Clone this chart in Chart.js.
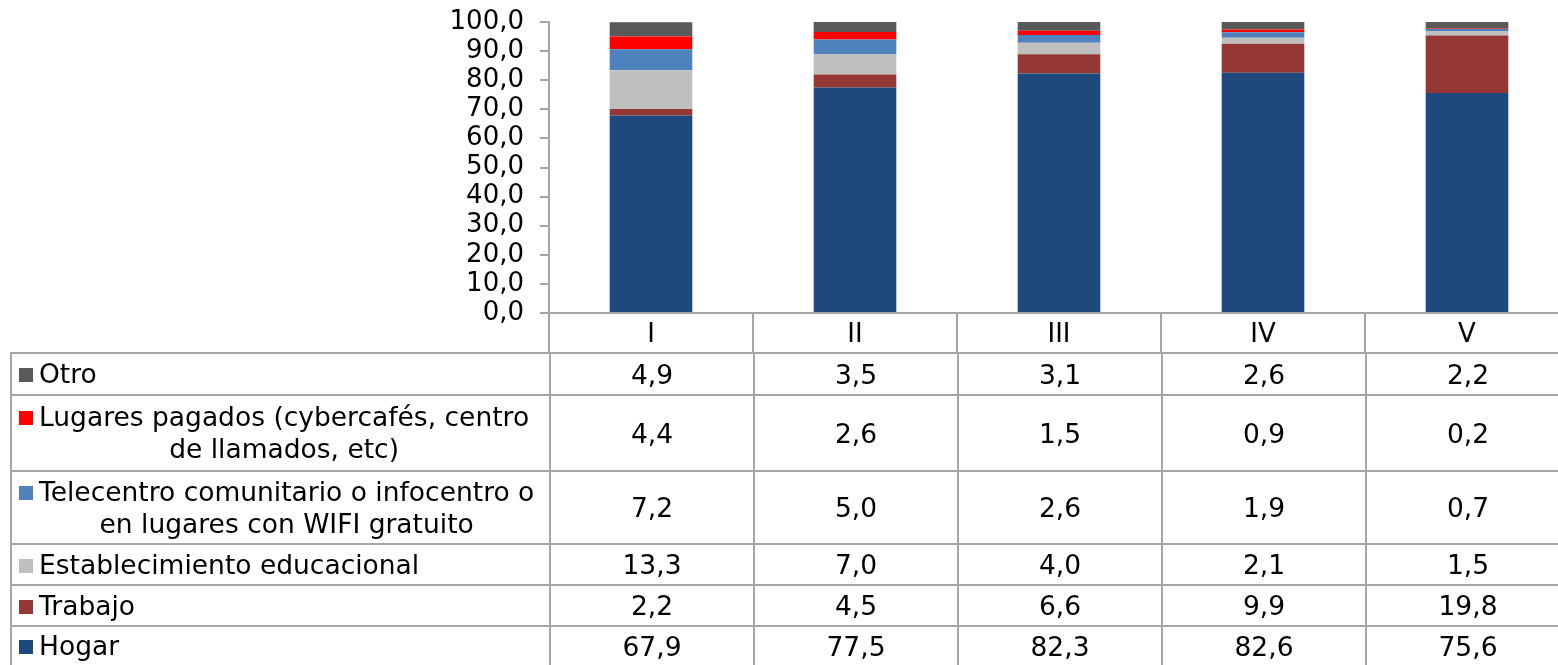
<!DOCTYPE html>
<html>
<head>
<meta charset="utf-8">
<script src="https://cdn.jsdelivr.net/npm/chart.js@4"></script>
<style>
  html, body { margin: 0; padding: 0; background: #fff; }
  body { width: 1558px; height: 665px; position: relative; overflow: hidden; font-family: "DejaVu Sans", Verdana, sans-serif; }
  #wrap { position: absolute; left: 0; top: 0; width: 1570px; height: 353px; }
  #data-table { position: absolute; left: 10px; top: 352px; width: 1561px; border-collapse: collapse; table-layout: fixed; font-size: 26.5px; color: #000; }
  #data-table td { border: 2px solid #a6a6a6; padding: 0; text-align: center; vertical-align: middle; }
  #data-table td.name { text-align: left; padding-left: 7px; }
  .name .lbl { display: inline-block; text-align: center; white-space: pre-line; line-height: 32px; vertical-align: middle; }
  .key { display: inline-block; flex: none; width: 14px; height: 14px; margin-right: 6px; margin-top: 10px; }
  .name .inner { display: flex; align-items: flex-start; }
</style>
</head>
<body>
<div id="wrap"><canvas id="chart" width="1570" height="353"></canvas></div>
<table id="data-table"><tbody id="table-body"></tbody></table>
<script>
// quintiles
const categories = ['I', 'II', 'III', 'IV', 'V'];

// series, bottom to top of the stack
const seriesNames = [
  'Hogar',
  'Trabajo',
  'Establecimiento educacional',
  'Telecentro comunitario o infocentro o\nen lugares con WIFI gratuito',
  'Lugares pagados (cybercafés, centro\nde llamados, etc)',
  'Otro'
];
const hogar = [67.9, 77.5, 82.3, 82.6, 75.6];
const trabajo = [2.2, 4.5, 6.6, 9.9, 19.8];
const educacional = [13.3, 7.0, 4.0, 2.1, 1.5];
const telecentro = [7.2, 5.0, 2.6, 1.9, 0.7];
const pagados = [4.4, 2.6, 1.5, 0.9, 0.2];
const otro = [4.9, 3.5, 3.1, 2.6, 2.2];
const seriesColors = ['#1F497D', '#953735', '#BFBFBF', '#4F81BD', '#FF0000', '#595959'];

const yTicks = [0, 10, 20, 30, 40, 50, 60, 70, 80, 90, 100];

const allSeries = [hogar, trabajo, educacional, telecentro, pagados, otro];
const fmt = v => v.toFixed(1).replace('.', ',');
const gridGray = '#a6a6a6';

new Chart(document.getElementById('chart'), {
  type: 'bar',
  data: {
    labels: categories,
    datasets: allSeries.map((vals, i) => ({
      label: seriesNames[i],
      data: vals,
      backgroundColor: seriesColors[i],
      borderWidth: 0,
      barPercentage: 0.405,
      categoryPercentage: 1.0
    }))
  },
  options: {
    responsive: false,
    animation: false,
    layout: { padding: { top: 22, right: 1, left: 0, bottom: 0 } },
    plugins: { legend: { display: false }, tooltip: { enabled: false } },
    scales: {
      x: {
        stacked: true,
        grid: { offset: true, drawOnChartArea: false, tickLength: 40, color: gridGray, lineWidth: 2 },
        border: { color: gridGray, width: 2 },
        ticks: { font: { family: 'DejaVu Sans', size: 26 }, color: '#000', padding: -33 },
        afterFit: s => { s.height = 40; s.paddingLeft = 0; s.paddingRight = 0; }
      },
      y: {
        stacked: true,
        min: 0,
        max: 100,
        afterBuildTicks: s => { s.ticks = yTicks.map(v => ({ value: v })); },
        grid: { drawOnChartArea: false, tickLength: 9, color: gridGray, lineWidth: 2 },
        border: { color: gridGray, width: 2 },
        ticks: { autoSkip: false, font: { family: 'DejaVu Sans', size: 26 }, color: '#000', padding: 16, callback: v => fmt(v) },
        afterFit: s => { s.width = 549; s.paddingTop = 0; s.paddingBottom = 0; }
      }
    }
  }
});

// data table below the chart, top row is the last series
const rowHeights = [42, 76, 73, 41, 41, 40];
const tbody = document.getElementById('table-body');
const colgroup = document.createElement('colgroup');
[539, 204, 204, 204, 204, 204].forEach(w => {
  const c = document.createElement('col');
  c.style.width = w + 'px';
  colgroup.appendChild(c);
});
document.getElementById('data-table').prepend(colgroup);

for (let k = allSeries.length - 1; k >= 0; k--) {
  const row = tbody.insertRow();
  row.style.height = rowHeights[allSeries.length - 1 - k] + 'px';
  const nameCell = row.insertCell();
  nameCell.className = 'name';
  nameCell.innerHTML = `<div class="inner"><span class="key" style="background:${seriesColors[k]}"></span><span class="lbl">${seriesNames[k]}</span></div>`;
  allSeries[k].forEach(v => {
    const td = row.insertCell();
    td.textContent = fmt(v);
  });
}
</script>
</body>
</html>
